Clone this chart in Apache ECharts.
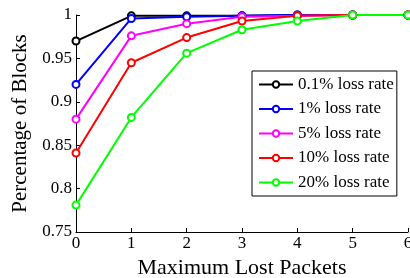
<!DOCTYPE html>
<html><head><meta charset="utf-8">
<script src="https://cdn.jsdelivr.net/npm/echarts@6/dist/echarts.min.js"></script>
<style>html,body{margin:0;padding:0;background:#fff}#c{width:410px;height:278px}</style>
</head><body><div id="c"></div>
<script>
const xValues = [0, 1, 2, 3, 4, 5, 6];
const seriesNames = ['0.1% loss rate', '1% loss rate', '5% loss rate', '10% loss rate', '20% loss rate'];
const rate01 = [0.970, 0.999, 0.999, 0.999, 1.000, 1.000, 1.000];
const rate1  = [0.920, 0.996, 0.998, 0.999, 1.000, 1.000, 1.000];
const rate5  = [0.880, 0.976, 0.990, 0.998, 0.999, 1.000, 1.000];
const rate10 = [0.841, 0.945, 0.974, 0.993, 0.999, 1.000, 1.000];
const rate20 = [0.781, 0.882, 0.956, 0.983, 0.993, 1.000, 1.000];
const yTicks = ['0.75', '0.8', '0.85', '0.9', '0.95', '1'];
const colors = ['#000000', '#0000ff', '#ff00ff', '#ff0000', '#00ff00'];
const allData = [rate01, rate1, rate5, rate10, rate20];

const font = 'Liberation Serif';
const chart = echarts.init(document.getElementById('c'));
chart.setOption({
  animation: false,
  backgroundColor: '#fff',
  grid: {left: 76, right: 2, top: 15, bottom: 46, containLabel: false, outerBoundsMode: 'none'},
  xAxis: {
    type: 'value', min: 0, max: 6, interval: 1,
    name: 'Maximum Lost Packets', nameLocation: 'middle', nameGap: 23,
    nameTextStyle: {fontFamily: font, fontSize: 22, color: '#000'},
    axisLine: {lineStyle: {color: '#000', width: 1}},
    axisTick: {inside: true, length: 4, lineStyle: {color: '#000'}},
    axisLabel: {fontFamily: font, fontSize: 17, color: '#000', margin: 3},
    splitLine: {show: false}
  },
  yAxis: {
    type: 'value', min: 0.75, max: 1, interval: 0.05,
    name: 'Percentage of Blocks', nameLocation: 'middle', nameGap: 43,
    nameTextStyle: {fontFamily: font, fontSize: 21, color: '#000'},
    axisLine: {show: true, lineStyle: {color: '#000', width: 1}},
    axisTick: {show: true, inside: true, length: 4, lineStyle: {color: '#000'}},
    axisLabel: {fontFamily: font, fontSize: 17, color: '#000', margin: 4,
      formatter: function (v) { const i = Math.round((v - 0.75) / 0.05); return yTicks[i]; }},
    splitLine: {show: false}
  },
  legend: {
    orient: 'vertical', left: 252, top: 71,
    backgroundColor: '#fff', borderColor: '#000', borderWidth: 1,
    padding: [5, 3, 5, 6], itemWidth: 34, itemHeight: 8, itemGap: 7.5,
    textStyle: {fontFamily: font, fontSize: 17, color: '#000'},
    data: seriesNames
  },
  series: seriesNames.map((n, i) => ({
    name: n, type: 'line',
    data: xValues.map((x, j) => [x, allData[i][j]]),
    symbol: 'circle', symbolSize: 7, showAllSymbol: true,
    lineStyle: {color: colors[i], width: 2},
    itemStyle: {color: '#fff', borderColor: colors[i], borderWidth: 2},
    clip: false
  }))
});
</script></body></html>
